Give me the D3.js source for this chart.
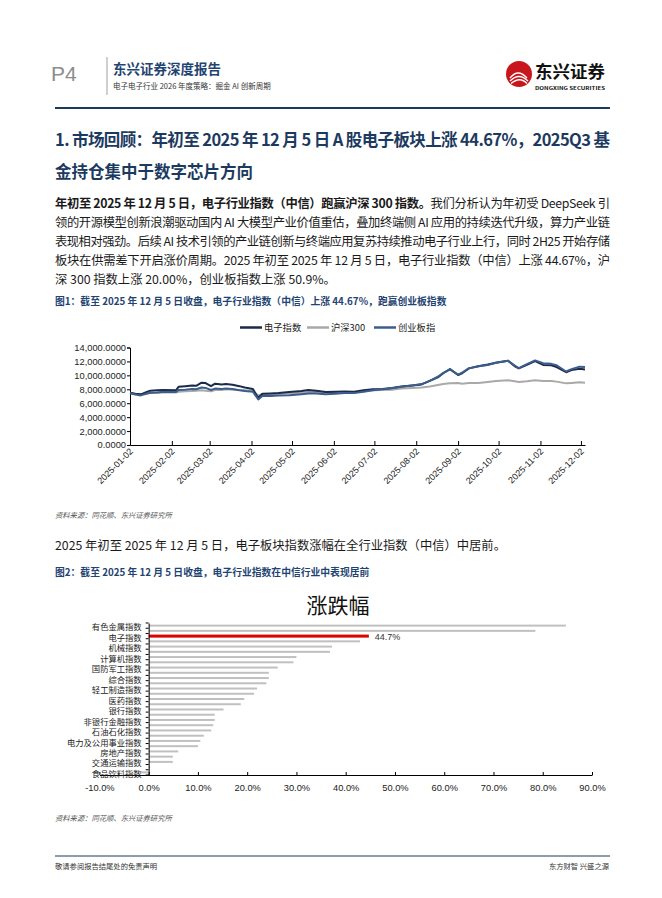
<!DOCTYPE html>
<html>
<head>
<meta charset="utf-8">
<script src="https://cdn.jsdelivr.net/npm/d3@7"></script>
<style>
  body { margin: 0; background: #fff; }
  svg text { font-family: "Noto Sans CJK SC", "Noto Sans", sans-serif; }
</style>
</head>
<body>
<script>
// ---- 图1 数据（指数，起点统一换算） ----
var lineDates = ["2025-01-02","2025-01-06","2025-01-10","2025-01-14","2025-01-17","2025-01-22","2025-01-27",
  "2025-02-05","2025-02-07","2025-02-12","2025-02-17","2025-02-20","2025-02-24","2025-02-27",
  "2025-03-03","2025-03-06","2025-03-11","2025-03-14","2025-03-19","2025-03-24","2025-03-28",
  "2025-04-03","2025-04-07","2025-04-10","2025-04-16","2025-04-22","2025-04-30","2025-05-09",
  "2025-05-14","2025-05-20","2025-05-27","2025-06-03","2025-06-10","2025-06-17","2025-06-24",
  "2025-07-01","2025-07-08","2025-07-15","2025-07-22","2025-07-30","2025-08-06","2025-08-12",
  "2025-08-18","2025-08-22","2025-08-27","2025-09-02","2025-09-05","2025-09-10","2025-09-17",
  "2025-09-24","2025-09-30","2025-10-09","2025-10-14","2025-10-17","2025-10-23","2025-10-29",
  "2025-11-04","2025-11-10","2025-11-14","2025-11-21","2025-11-25","2025-12-01","2025-12-05"];
var elecIdx = [7500,7350,7280,7600,7800,7850,7900, 7850,8350,8450,8550,8500,8950,8900,
  8450,8800,8700,8750,8650,8450,8250, 8050,6750,7350,7400,7450,7600,7750,
  7900,7800,7600,7650,7700,7650,7850, 8000,8050,8200,8400,8550,8700,9200,
  9700,10300,10900,10050,10300,11000,11300, 11550,11800,12100,11300,11000,11500,12050,
  11500,11450,11200,10450,10750,10950,10850];
var hs300Idx = [7450,7300,7250,7400,7450,7500,7550, 7550,7650,7700,7750,7800,7850,7800,
  7700,7900,7900,8000,7950,7900,7850, 7750,7100,7300,7300,7350,7400,7500,
  7600,7600,7550,7550,7600,7600,7700, 7850,7900,7950,8100,8200,8250,8400,
  8600,8750,8850,8900,8800,8900,8900, 9050,9200,9300,9150,9050,9150,9300,
  9200,9200,9100,8850,8900,9000,8950];
var cybIdx = [7420,7250,7120,7350,7500,7550,7650, 7600,7900,7950,8050,8000,8250,8200,
  7900,8100,8050,8100,8050,7850,7750, 7650,6550,7050,7050,7100,7150,7300,
  7400,7400,7300,7350,7450,7450,7650, 7850,8000,8150,8350,8550,8750,9200,
  9800,10350,10850,10100,10400,11000,11300, 11500,11800,12100,11400,11050,11600,12150,
  11750,11650,11450,10550,10900,11250,11200];
var seriesNames = ["电子指数", "沪深300", "创业板指"];
var seriesColors = ["#1b2a48", "#a9a9a9", "#3b5d8c"];
var yTicks = [0, 2000, 4000, 6000, 8000, 10000, 12000, 14000];
var xTickDates = ["2025-01-02","2025-02-02","2025-03-02","2025-04-02","2025-05-02","2025-06-02",
  "2025-07-02","2025-08-02","2025-09-02","2025-10-02","2025-11-02","2025-12-02"];

// ---- 图2 数据（涨跌幅 %） ----
var industries = ["有色金属指数","通信指数","电子指数","电力设备及新能源指数","机械指数","基础化工指数",
  "计算机指数","汽车指数","国防军工指数","传媒指数","综合指数","建材指数","轻工制造指数","钢铁指数",
  "医药指数","纺织服装指数","银行指数","农林牧渔指数","非银行金融指数","家电指数","石油石化指数",
  "建筑指数","电力及公用事业指数","商贸零售指数","房地产指数","消费者服务指数","交通运输指数",
  "煤炭指数","食品饮料指数"];
var industryChg = [84.7,78.5,44.7,42.9,37.2,36.8,30.0,29.4,26.2,24.4,24.4,23.9,22.0,21.4,
  19.4,18.7,15.2,13.4,13.4,13.1,12.7,11.2,10.5,10.0,6.0,4.9,4.9,0.3,-1.6];
var barTicks = [-10,0,10,20,30,40,50,60,70,80,90];

var W = 662, H = 898;
var navy = "#1c3a60";
var svg = d3.select("body").append("svg").attr("width", W).attr("height", H);

// ---- 页眉 ----
svg.append("text").attr("x", 51).attr("y", 81).text("P4")
  .style("font-family", "'Liberation Sans', Arial").attr("font-size", 21).attr("fill", "#8c8c8c");
svg.append("line").attr("x1", 107).attr("x2", 107).attr("y1", 57).attr("y2", 95)
  .attr("stroke", "#888").attr("stroke-width", 0.8);
svg.append("text").attr("x", 113).attr("y", 74).text("东兴证券深度报告")
  .attr("font-size", 13.5).attr("font-weight", "bold").attr("fill", "#1f4472");
svg.append("text").attr("x", 113).attr("y", 89).text("电子电子行业 2026 年度策略：掘金 AI 创新周期")
  .attr("font-size", 7.5).attr("fill", "#333");

var logo = svg.append("g").attr("transform", "translate(519,74)");
logo.append("circle").attr("r", 13).attr("fill", "#c9161c");
[[-9, 4, -1, -6, 8, 4], [-9, 7, 0, -2, 9, 7], [-8, 9.5, 1, 2, 8, 9.5]].forEach(function (p) {
  logo.append("path").attr("d", "M" + p[0] + "," + p[1] + " Q" + p[2] + "," + p[3] + " " + p[4] + "," + p[5])
    .attr("fill", "none").attr("stroke", "#fff").attr("stroke-width", 1.3);
});
svg.append("text").attr("x", 535).attr("y", 78).text("东兴证券")
  .attr("font-size", 16.5).attr("font-weight", "bold").attr("fill", "#111")
  .attr("textLength", 70).attr("lengthAdjust", "spacingAndGlyphs");
svg.append("text").attr("x", 535).attr("y", 90).text("DONGXING SECURITIES")
  .attr("font-size", 4.6).attr("font-weight", "bold").attr("fill", "#111")
  .attr("textLength", 70).attr("lengthAdjust", "spacingAndGlyphs");

svg.append("line").attr("x1", 55).attr("x2", 610).attr("y1", 108).attr("y2", 108)
  .attr("stroke", "#1c3a5c").attr("stroke-width", 2);

// ---- 标题与正文 ----
function textLine(x, y, size, parts, width, color) {
  var t = svg.append("text").attr("x", x).attr("y", y).attr("font-size", size).attr("fill", color || "#222");
  parts.forEach(function (p) {
    t.append("tspan").attr("font-weight", p[1] ? "bold" : "normal").text(p[0]);
  });
  if (width) t.attr("textLength", width).attr("lengthAdjust", "spacing");
  return t;
}

textLine(55, 146, 16.5, [["1. 市场回顾：年初至 2025 年 12 月 5 日 A 股电子板块上涨 44.67%，2025Q3 基", true]], 555, navy);
textLine(55, 178, 16.5, [["金持仓集中于数字芯片方向", true]], null, navy);

var paraLines = [
  [["年初至 2025 年 12 月 5 日，电子行业指数（中信）跑赢沪深 300 指数。", true], ["我们分析认为年初受 DeepSeek 引", false]],
  [["领的开源模型创新浪潮驱动国内 AI 大模型产业价值重估，叠加终端侧 AI 应用的持续迭代升级，算力产业链", false]],
  [["表现相对强劲。后续 AI 技术引领的产业链创新与终端应用复苏持续推动电子行业上行，同时 2H25 开始存储", false]],
  [["板块在供需差下开启涨价周期。2025 年初至  2025 年  12 月 5 日，电子行业指数（中信）上涨  44.67%，沪", false]],
  [["深  300  指数上涨  20.00%，创业板指数上涨 50.9%。", false]]
];
paraLines.forEach(function (l, i) {
  textLine(55, 208 + i * 19, 12.3, l, i < paraLines.length - 1 ? 555 : null, "#1a1a1a");
});

textLine(55, 305, 9.8, [["图1：截至 2025 年 12 月 5 日收盘，电子行业指数（中信）上涨 44.67%，跑赢创业板指数", true]], null, "#1f4472");

// ---- 图1 折线图 ----
var parseD = d3.timeParse("%Y-%m-%d");
var dates = lineDates.map(parseD);
var x1 = d3.scaleTime().domain([parseD("2025-01-02"), parseD("2025-12-05")]).range([130, 585]);
var y1 = d3.scaleLinear().domain([0, 14000]).range([445, 347.5]);

var g1 = svg.append("g");
g1.append("g").attr("transform", "translate(130,0)")
  .call(d3.axisLeft(y1).tickValues(yTicks).tickSize(3).tickFormat(d3.format(",.4f")))
  .call(function (g) {
    g.selectAll("text").attr("font-size", 9.3).attr("fill", "#222").attr("x", -4)
      .style("font-family", "'Liberation Sans', Arial");
    g.select(".domain").attr("stroke", "#000");
  });
g1.append("g").attr("transform", "translate(0,445)")
  .call(d3.axisBottom(x1).tickValues(xTickDates.map(parseD)).tickSize(-4).tickSizeOuter(0)
    .tickFormat(d3.timeFormat("%Y-%m-%d")))
  .call(function (g) {
    g.select(".domain").attr("stroke", "#000");
    g.selectAll("text").attr("font-size", 9).attr("fill", "#222")
      .style("font-family", "'Liberation Sans', Arial")
      .attr("text-anchor", "end").attr("dy", 0).attr("y", 0)
      .attr("transform", "translate(3,7) rotate(-45)");
  });

var series = [elecIdx, hs300Idx, cybIdx];
var lineGen = d3.line().x(function (d, i) { return x1(dates[i]); }).y(function (d) { return y1(d); });
[1, 0, 2].forEach(function (k) {
  g1.append("path").datum(series[k]).attr("d", lineGen)
    .attr("fill", "none").attr("stroke", seriesColors[k]).attr("stroke-width", 2)
    .attr("stroke-linejoin", "round");
});

var legX = [240, 307, 374];
seriesNames.forEach(function (n, k) {
  svg.append("line").attr("x1", legX[k]).attr("x2", legX[k] + 22).attr("y1", 327.5).attr("y2", 327.5)
    .attr("stroke", seriesColors[k]).attr("stroke-width", 2.5);
  svg.append("text").attr("x", legX[k] + 24).attr("y", 331).text(n)
    .attr("font-size", 9.3).attr("fill", "#222");
});

svg.append("text").attr("x", 55).attr("y", 518).text("资料来源：同花顺、东兴证券研究所")
  .attr("font-size", 7.3).attr("font-style", "italic").attr("fill", "#555");

textLine(55, 550, 12.3, [["2025 年初至  2025  年  12 月 5 日，电子板块指数涨幅在全行业指数（中信）中居前。", false]], null, "#1a1a1a");
textLine(55, 576, 9.8, [["图2：截至 2025 年 12 月 5 日收盘，电子行业指数在中信行业中表现居前", true]], null, "#1f4472");

// ---- 图2 条形图 ----
var x2 = d3.scaleLinear().domain([-10, 90]).range([99.4, 592]);
var y2 = d3.scaleBand().domain(industries).range([623, 775]);
var g2 = svg.append("g");

g2.append("text").attr("x", 338).attr("y", 613).attr("text-anchor", "middle")
  .text("涨跌幅").attr("font-size", 21).attr("fill", "#111");

g2.selectAll("rect.bar").data(industries).enter().append("rect")
  .attr("class", "bar")
  .attr("x", function (d, i) { return Math.min(x2(0), x2(industryChg[i])); })
  .attr("width", function (d, i) { return Math.abs(x2(industryChg[i]) - x2(0)); })
  .attr("y", function (d) { return y2(d) + y2.bandwidth() / 2 - (d === "电子指数" ? 1.5 : 1); })
  .attr("height", function (d) { return d === "电子指数" ? 3 : 2; })
  .attr("fill", function (d) { return d === "电子指数" ? "#e00000" : "#c0c0c0"; });

var elecI = industries.indexOf("电子指数");
g2.append("text").attr("x", x2(industryChg[elecI]) + 6).attr("y", y2("电子指数") + y2.bandwidth() / 2 + 3.5)
  .text(industryChg[elecI].toFixed(1) + "%").attr("font-size", 9).attr("fill", "#333")
  .style("font-family", "'Liberation Sans', Arial");

g2.append("g").attr("transform", "translate(0,775)")
  .call(d3.axisBottom(x2).tickValues(barTicks).tickSize(-3).tickSizeOuter(0)
    .tickFormat(function (v) { return v.toFixed(1) + "%"; }))
  .call(function (g) {
    g.select(".domain").attr("stroke", "#000");
    g.selectAll("text").attr("font-size", 9.3).attr("fill", "#222").attr("y", 9)
      .style("font-family", "'Liberation Sans', Arial");
  });

var yAx = g2.append("g").attr("transform", "translate(" + x2(0) + ",0)")
  .call(d3.axisLeft(y2).tickSize(0)
    .tickFormat(function (d, i) { return i % 2 === 0 ? d : ""; }));
yAx.select(".domain").attr("stroke", "#000");
yAx.selectAll("text").attr("font-size", 8.3).attr("fill", "#222").attr("x", -7).attr("dy", "0.55em");
industries.concat([null]).forEach(function (d, i) {
  var yy = 623 + i * y2.step();
  yAx.append("line").attr("x1", -3).attr("x2", 0).attr("y1", yy).attr("y2", yy).attr("stroke", "#000");
});

svg.append("text").attr("x", 55).attr("y", 821).text("资料来源：同花顺、东兴证券研究所")
  .attr("font-size", 7.3).attr("font-style", "italic").attr("fill", "#555");

// ---- 页脚 ----
svg.append("line").attr("x1", 55).attr("x2", 610).attr("y1", 856).attr("y2", 856)
  .attr("stroke", "#1c3a5c").attr("stroke-width", 1.2);
svg.append("text").attr("x", 55).attr("y", 869).text("敬请参阅报告结尾处的免责声明")
  .attr("font-size", 7.3).attr("fill", "#333");
svg.append("text").attr("x", 609).attr("y", 869).attr("text-anchor", "end").text("东方财智 兴盛之源")
  .attr("font-size", 7.3).attr("fill", "#333");
</script>
</body>
</html>
